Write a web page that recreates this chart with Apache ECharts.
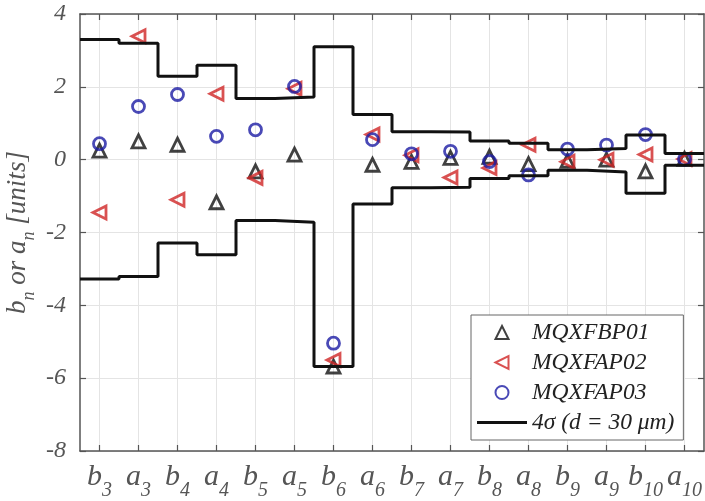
<!DOCTYPE html>
<html>
<head>
<meta charset="utf-8">
<script src="https://cdn.jsdelivr.net/npm/echarts@6/dist/echarts.min.js"></script>
<style>
  html, body { margin: 0; padding: 0; background: #ffffff; }
  #chart { width: 705px; height: 501px; }
</style>
</head>
<body>
<div id="chart"></div>
<script>
// Field harmonics, normal (b) and skew (a), orders 3..10
const harmonics = ['b3', 'a3', 'b4', 'a4', 'b5', 'a5', 'b6', 'a6',
                   'b7', 'a7', 'b8', 'a8', 'b9', 'a9', 'b10', 'a10'];

// Measured harmonics per magnet [units]
const mqxfbp01 = [0.25, 0.50, 0.41, -1.17, -0.32, 0.14, -5.68, -0.14,
                  -0.06, 0.05, 0.08, -0.12, -0.03, 0.00, -0.32, 0.02];
const mqxfap02 = [-1.45, 3.39, -1.10, 1.81, -0.50, 1.95, -5.50, 0.69,
                  0.12, -0.49, -0.23, 0.41, -0.06, 0.00, 0.14, 0.02];
const mqxfap03 = [0.44, 1.46, 1.79, 0.64, 0.82, 2.01, -5.04, 0.55,
                  0.16, 0.23, -0.05, -0.42, 0.29, 0.40, 0.69, 0.01];

// 4-sigma envelope (d = 30 um), upper and lower limits per harmonic
const sigmaUpper = [3.30, 3.20, 2.29, 2.59, 1.68, 1.72, 3.10, 1.24,
                    0.77, 0.76, 0.51, 0.45, 0.27, 0.31, 0.68, 0.17];
const sigmaLower = [-3.28, -3.21, -2.29, -2.61, -1.67, -1.72, -5.68, -1.22,
                    -0.77, -0.76, -0.52, -0.44, -0.29, -0.34, -0.92, -0.15];

// Y axis range and step
const yMin = -8, yMax = 4, yStep = 2;

const serif = "'Liberation Serif', 'DejaVu Serif', serif";
const positions = harmonics.map((_, i) => i + 1);

// one [x, y] point per harmonic, x = harmonic position on the axis
const toPoints = vals => vals.map((v, i) => [i + 1, v]);

// step outline: each level spans its harmonic cell [i + 0.5, i + 1.5]
const toSteps = vals => {
  const pts = vals.map((v, i) => [i + 0.5, v]);
  pts.push([vals.length + 0.5, vals[vals.length - 1]]);
  return pts;
};

const labelFmt = v => {
  const h = harmonics[Math.round(v) - 1];
  return h ? '{m|' + h[0] + '}{s|' + h.slice(1) + '}' : '';
};

const axisGrey = '#555555';
const textGrey = '#555555';
const colBlack = '#111111', colRed = '#cf2626', colBlue = '#1c1ca4';

const hollow = (color) => ({ color: 'rgba(255,255,255,0)', borderColor: color, borderWidth: 2.8 });

// legend glyphs, kept at their own aspect inside the legend icon box
const iconUp = 'path://M6.5,0L13,13L0,13Z';
const iconLeft = 'path://M0,6.5L13,0L13,13Z';
const iconRule = 'path://M0,0L50,0L50,3L0,3Z';

const chart = echarts.init(document.getElementById('chart'), null, { renderer: 'canvas' });

chart.setOption({
  backgroundColor: '#ffffff',
  animation: false,
  grid: { left: 80, top: 14, width: 624, height: 437, containLabel: false, outerBoundsMode: 'none' },
  xAxis: [{
    type: 'value', position: 'bottom', min: 0.5, max: 16.5,
    axisLine: { show: true, onZero: false, lineStyle: { color: axisGrey, width: 1.5 } },
    axisTick: { show: true, inside: true, length: 6, customValues: positions,
                lineStyle: { color: axisGrey, width: 1.2 } },
    axisLabel: {
      customValues: positions, formatter: labelFmt, margin: 10,
      verticalAlign: 'top',
      rich: {
        m: { fontFamily: serif, fontStyle: 'italic', fontSize: 30, color: textGrey,
             lineHeight: 32, height: 32, verticalAlign: 'top' },
        s: { fontFamily: serif, fontStyle: 'italic', fontSize: 20, color: textGrey,
             lineHeight: 60, height: 60, verticalAlign: 'top' }
      }
    },
    splitLine: { show: true, lineStyle: { color: '#e4e4e4', width: 1 } }
  }, {
    type: 'value', position: 'top', min: 0.5, max: 16.5,
    axisLine: { show: true, onZero: false, lineStyle: { color: axisGrey, width: 1.5 } },
    axisTick: { show: true, inside: true, length: 6, customValues: positions,
                lineStyle: { color: axisGrey, width: 1.2 } },
    axisLabel: { show: false },
    splitLine: { show: false }
  }],
  yAxis: [{
    type: 'value', position: 'left', min: yMin, max: yMax, interval: yStep,
    axisLine: { show: true, onZero: false, lineStyle: { color: axisGrey, width: 1.5 } },
    axisTick: { show: true, inside: true, length: 6, lineStyle: { color: axisGrey, width: 1.2 } },
    axisLabel: { margin: 14, fontFamily: serif, fontStyle: 'italic', fontSize: 24, color: textGrey },
    splitLine: { show: true, lineStyle: { color: '#e4e4e4', width: 1 } },
    name: '{m|b}{s|n}{m| or a}{s|n}{m| [units]}',
    nameLocation: 'middle', nameRotate: 90, nameGap: 24, nameMoveOverlap: false,
    nameTextStyle: {
      rich: {
        m: { fontFamily: serif, fontStyle: 'italic', fontSize: 27, color: textGrey,
             lineHeight: 29, height: 29, verticalAlign: 'top' },
        s: { fontFamily: serif, fontStyle: 'italic', fontSize: 18, color: textGrey,
             lineHeight: 53, height: 53, verticalAlign: 'top' }
      }
    }
  }, {
    type: 'value', position: 'right', min: yMin, max: yMax, interval: yStep,
    axisLine: { show: true, onZero: false, lineStyle: { color: axisGrey, width: 1.5 } },
    axisTick: { show: true, inside: true, length: 6, lineStyle: { color: axisGrey, width: 1.2 } },
    axisLabel: { show: false },
    splitLine: { show: false }
  }],
  legend: {
    orient: 'vertical', left: 471, top: 315,
    data: [
      { name: 'MQXFBP01', icon: iconUp },
      { name: 'MQXFAP02', icon: iconLeft },
      { name: 'MQXFAP03', icon: 'circle' },
      { name: '4σ (d = 30 μm)', icon: iconRule }
    ],
    backgroundColor: '#ffffff', borderColor: '#666666', borderWidth: 1,
    padding: [6, 9, 6, 6], itemGap: 7, itemWidth: 50, itemHeight: 13,
    textStyle: { fontFamily: serif, fontStyle: 'italic', fontSize: 23.5, color: '#222', lineHeight: 22 }
  },
  series: [{
    name: 'MQXFBP01', type: 'scatter', data: toPoints(mqxfbp01),
    symbol: 'triangle', symbolSize: 13,
    itemStyle: hollow(colBlack), z: 3
  }, {
    name: 'MQXFAP02', type: 'scatter', data: toPoints(mqxfap02),
    symbol: 'triangle', symbolSize: 13, symbolRotate: 90,
    itemStyle: hollow(colRed), z: 4
  }, {
    name: 'MQXFAP03', type: 'scatter', data: toPoints(mqxfap03),
    symbol: 'circle', symbolSize: 12,
    itemStyle: hollow(colBlue), z: 5
  }, {
    name: '4σ (d = 30 μm)', type: 'line', step: 'end', data: toSteps(sigmaUpper),
    symbol: 'none', lineStyle: { color: colBlack, width: 3 }, itemStyle: { color: colBlack }, z: 6
  }, {
    name: '4σ (d = 30 μm)', type: 'line', step: 'end', data: toSteps(sigmaLower),
    symbol: 'none', lineStyle: { color: colBlack, width: 3 }, itemStyle: { color: colBlack }, z: 6
  }]
});
</script>
</body>
</html>
